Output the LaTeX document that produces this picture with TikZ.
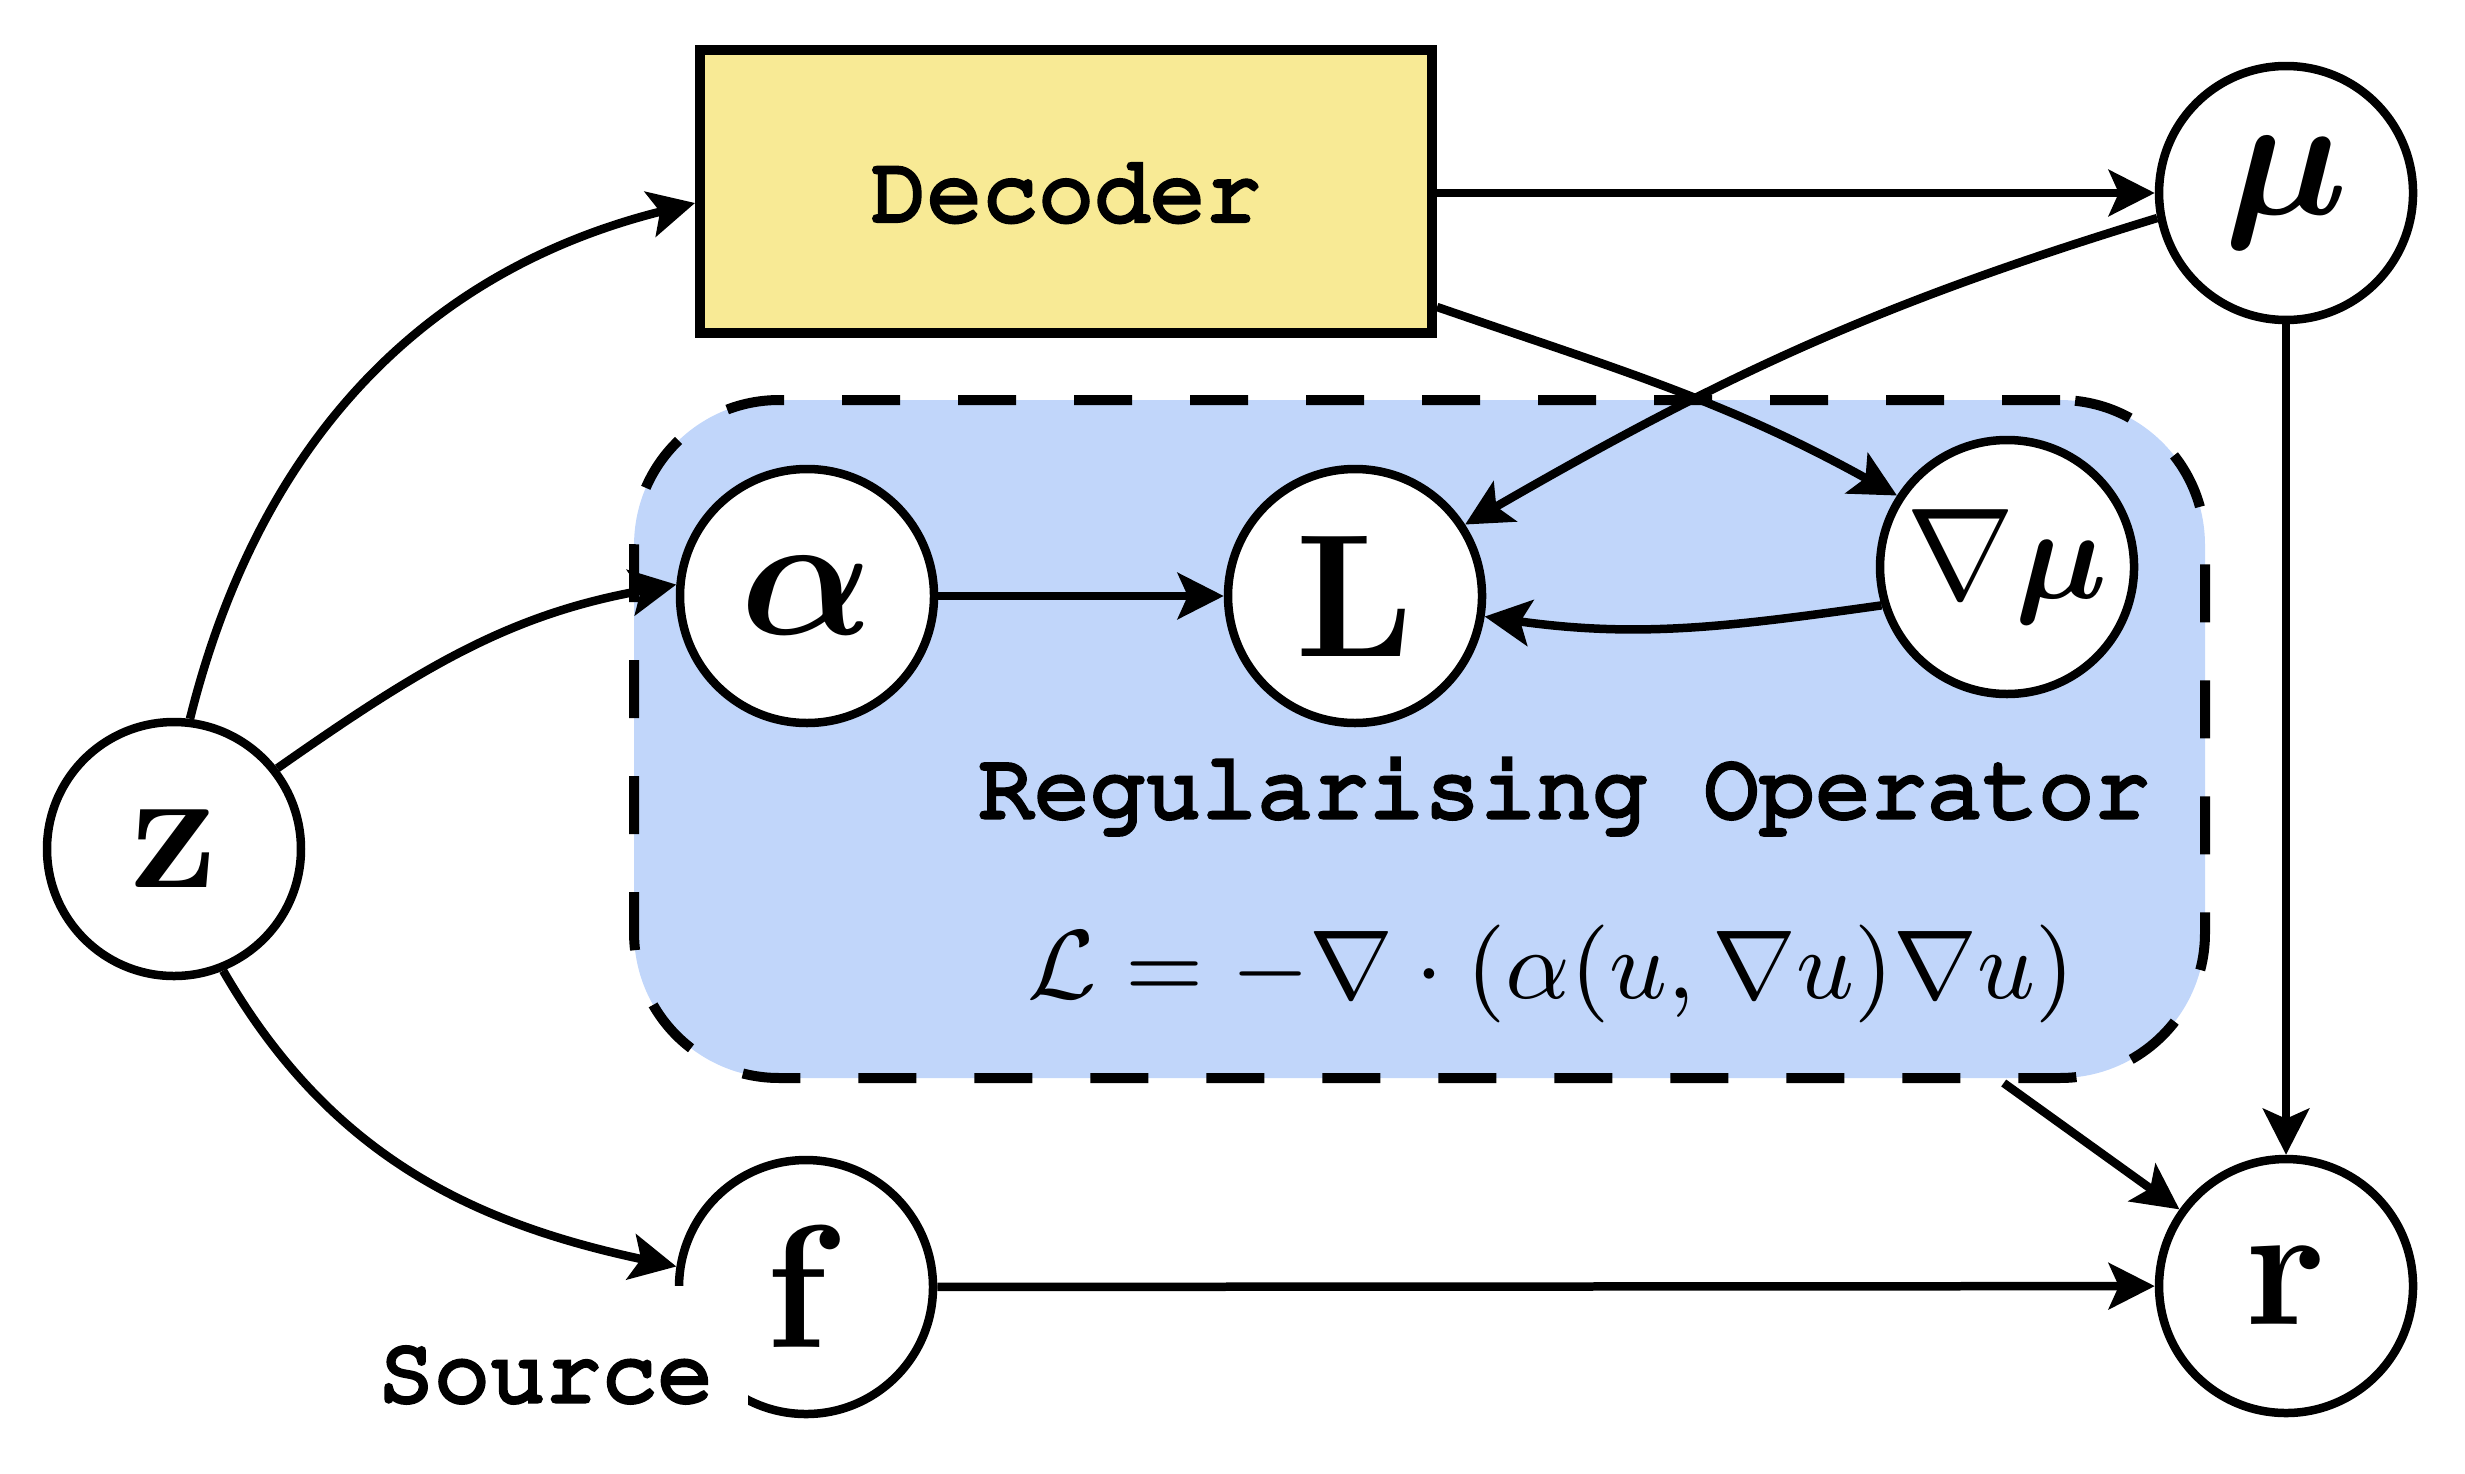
\RequirePackage{fix-cm}
\documentclass[tikz,border=0pt]{standalone}
\usepackage[T1,TU]{fontenc}
\usepackage{amsmath,bm}
\usetikzlibrary{arrows.meta,calc}
\definecolor{regblue}{RGB}{193,214,250}
\definecolor{decyellow}{RGB}{248,234,149}
\newcommand\courtext{\fontencoding{T1}\fontfamily{pcr}\fontseries{m}\fontshape{n}\fontsize{9.3}{11}\selectfont}
\newcommand\heavy[1]{\special{pdf:literal direct 2 Tr 0.5 w}#1\special{pdf:literal direct 0 Tr 0.4 w}}
\newcommand\nodemath{\fontsize{17.5}{20}\selectfont}
\newcommand\smallnodemath{\fontsize{13}{15}\selectfont}
\newcommand\formulafont{\fontsize{9.8}{12}\selectfont}
\begin{document}
\begin{tikzpicture}[x=0.1pt,y=0.1pt,
  var/.style={circle, draw, fill=white, line width=0.85pt, minimum size=25.4pt, inner sep=0pt, font=\nodemath},
  edge/.style={line width=0.85pt, -{Stealth[length=4.6pt,width=4.6pt,inset=1pt]}},
  decbox/.style={rectangle, draw, fill=decyellow, line width=1pt, minimum width=73.2pt, minimum height=28.3pt, inner sep=0pt, font=\courtext},
  regbox/.style={rectangle, rounded corners=14.5pt, draw, fill=regblue, line width=1pt, dash pattern=on 5.8pt off 5.8pt, minimum width=157.1pt, minimum height=67.8pt, inner sep=0pt},
  lbl/.style={inner sep=0pt, font=\courtext},
  srclabel/.style={fill=white, font=\courtext, inner xsep=3.5pt, inner ysep=5.5pt, text height=6pt, text depth=0pt}]
\useasboundingbox (0,0) rectangle (2465,1473);
% regularising operator container
\node[regbox] (reg) at (1419.5,734) {};
\node[lbl, anchor=base] (regtxt) at (1564,656) {\heavy{Regularising Operator}};
\node[inner sep=0pt, anchor=base, font=\formulafont] (formula) at (1551,474.5) {$\mathcal{L} = -\nabla\cdot\left(\alpha(u,\nabla u)\nabla u\right)$};
% nodes
\node[var] (z) at (174,624) {$\mathbf{z}$};
\node[decbox] (dec) at (1066,1281.5) {\heavy{Decoder}};
\node[var] (mu) at (2286,1280) {$\bm{\mu}$};
\node[var] (al) at (807,877) {$\bm{\alpha}$};
\node[var] (L) at (1355,877) {$\mathbf{L}$};
\node[var, font=\smallnodemath] (nm) at (2007,906) {$\nabla\bm{\mu}$};
\node[var] (f) at (806,186) {$\mathbf{f}$};
\node[var] (r) at (2286,187) {$\mathbf{r}$};
\node[srclabel, anchor=base east] (src) at (750,72) {\heavy{Source}};
% edges
\draw[edge] (z.83) to[out=76, in=194] ([yshift=-1.15pt]dec.west);
\draw[edge] (z.38) to[out=35, in=190] (al.175);
\draw[edge] (z.-68) to[out=-60, in=168] (f.171);
\draw[edge] (dec.east |- mu.west) -- (mu.west);
\draw[edge] ([yshift=-11.55pt]dec.east) to[out=-19, in=151] (nm.147);
\draw[edge] (mu.191) to[out=197, in=30] (L.33);
\draw[edge] (nm.197) to[out=188, in=-8] (L.-9);
\draw[edge] (al) -- (L);
\draw[edge] (mu) -- (r);
\draw[edge] (f) -- (r);
\coordinate (regout) at ($(reg.south west)!0.8695!(reg.south east)$);
\draw[edge] (regout) -- (r);
\end{tikzpicture}
\end{document}
